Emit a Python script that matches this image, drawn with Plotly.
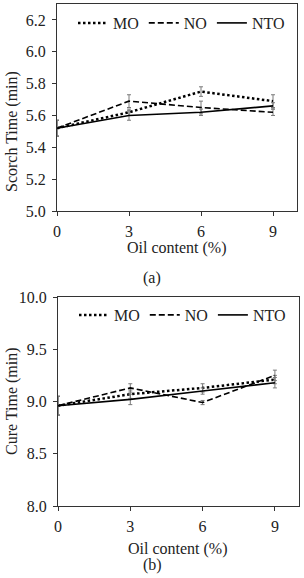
import plotly.graph_objects as go

W, H = 304, 578

oil = [0, 3, 6, 9]
x_ticks = [0, 3, 6, 9]

series_names = ["MO", "NO", "NTO"]

# (a) Scorch time
scorch_MO = [5.52, 5.62, 5.75, 5.69]
scorch_NO = [5.52, 5.69, 5.65, 5.62]
scorch_NTO = [5.52, 5.60, 5.62, 5.66]
scorch_MO_err = [0.05, 0.02, 0.03, 0.04]
scorch_NO_err = [0.05, 0.04, 0.04, 0.02]
scorch_NTO_err = [0.05, 0.03, 0.02, 0.02]
scorch_ticks = [5.0, 5.2, 5.4, 5.6, 5.8, 6.0, 6.2]

# (b) Cure time
cure_MO = [8.96, 9.07, 9.13, 9.21]
cure_NO = [8.96, 9.13, 8.99, 9.25]
cure_NTO = [8.96, 9.02, 9.10, 9.18]
cure_MO_err = [0.09, 0.04, 0.04, 0.04]
cure_NO_err = [0.09, 0.04, 0.02, 0.05]
cure_NTO_err = [0.09, 0.05, 0.03, 0.05]
cure_ticks = [8.0, 8.5, 9.0, 9.5, 10.0]

FONT = "Liberation Serif"
styles = {
    "MO": dict(dash="2.5px,2.5px", width=2.5),
    "NO": dict(dash="6px,3px", width=1.6),
    "NTO": dict(dash="solid", width=1.6),
}

def px_x(p):
    return p / W

def px_y(p):
    return 1 - p / H

fig = go.Figure()

top = [("MO", scorch_MO, scorch_MO_err), ("NO", scorch_NO, scorch_NO_err), ("NTO", scorch_NTO, scorch_NTO_err)]
bot = [("MO", cure_MO, cure_MO_err), ("NO", cure_NO, cure_NO_err), ("NTO", cure_NTO, cure_NTO_err)]

for name, ys, err in top:
    fig.add_trace(go.Scatter(
        x=oil, y=ys, name=name, mode="lines", xaxis="x", yaxis="y",
        line=dict(color="black", **styles[name]),
        error_y=dict(type="data", array=err, visible=True, color="#7a7a7a", thickness=1, width=2),
        legend="legend"))
for name, ys, err in bot:
    fig.add_trace(go.Scatter(
        x=oil, y=ys, name=name, mode="lines", xaxis="x2", yaxis="y2",
        line=dict(color="black", **styles[name]),
        error_y=dict(type="data", array=err, visible=True, color="#7a7a7a", thickness=1, width=2),
        legend="legend2"))

axis_common = dict(
    showline=True, linecolor="#333333", linewidth=1, mirror=True,
    showgrid=False, zeroline=False, automargin=False,
    ticks="outside", ticklen=4, tickcolor="#333333",
    tickfont=dict(family=FONT, size=16, color="#222222"),
)

fig.update_layout(
    width=W, height=H,
    margin=dict(l=0, r=0, t=0, b=0),
    paper_bgcolor="white", plot_bgcolor="white",
    font=dict(family=FONT, size=16, color="#222222"),
    xaxis=dict(domain=[px_x(57), px_x(297)], range=[0, 10], tickvals=x_ticks,
               anchor="y", ticklabelstandoff=2, **axis_common),
    yaxis=dict(domain=[px_y(211), px_y(4)], range=[5.0, 6.3], tickvals=scorch_ticks,
               tickformat=".1f", anchor="x", ticklabelstandoff=3, **axis_common),
    xaxis2=dict(domain=[px_x(58), px_x(299)], range=[0, 10], tickvals=x_ticks,
                anchor="y2", ticklabelstandoff=2, **axis_common),
    yaxis2=dict(domain=[px_y(506), px_y(297)], range=[8.0, 10.0], tickvals=cure_ticks,
                tickformat=".1f", anchor="x2", ticklabelstandoff=3, **axis_common),
    legend=dict(orientation="h", x=px_x(73), xanchor="left", y=px_y(23), yanchor="middle",
                bgcolor="rgba(0,0,0,0)", font=dict(family=FONT, size=16), itemwidth=30),
    legend2=dict(orientation="h", x=px_x(74), xanchor="left", y=px_y(315), yanchor="middle",
                 bgcolor="rgba(0,0,0,0)", font=dict(family=FONT, size=16), itemwidth=30),
    showlegend=True,
)

ann = [
    dict(text="Oil content (%)", x=px_x(177), y=px_y(248)),
    dict(text="Oil content (%)", x=px_x(178), y=px_y(549)),
    dict(text="(a)", x=px_x(152), y=px_y(278)),
    dict(text="(b)", x=px_x(152), y=px_y(565)),
    dict(text="Scorch Time (min)", x=px_x(12), y=px_y(132), textangle=-90),
    dict(text="Cure Time (min)", x=px_x(12), y=px_y(401), textangle=-90),
]
for a in ann:
    fig.add_annotation(xref="paper", yref="paper", showarrow=False,
                       xanchor="center", yanchor="middle",
                       font=dict(family=FONT, size=16, color="#222222"), **a)

fig.write_html("out.html", config={"displayModeBar": False},
               post_script="document.body.style.margin='0';")
